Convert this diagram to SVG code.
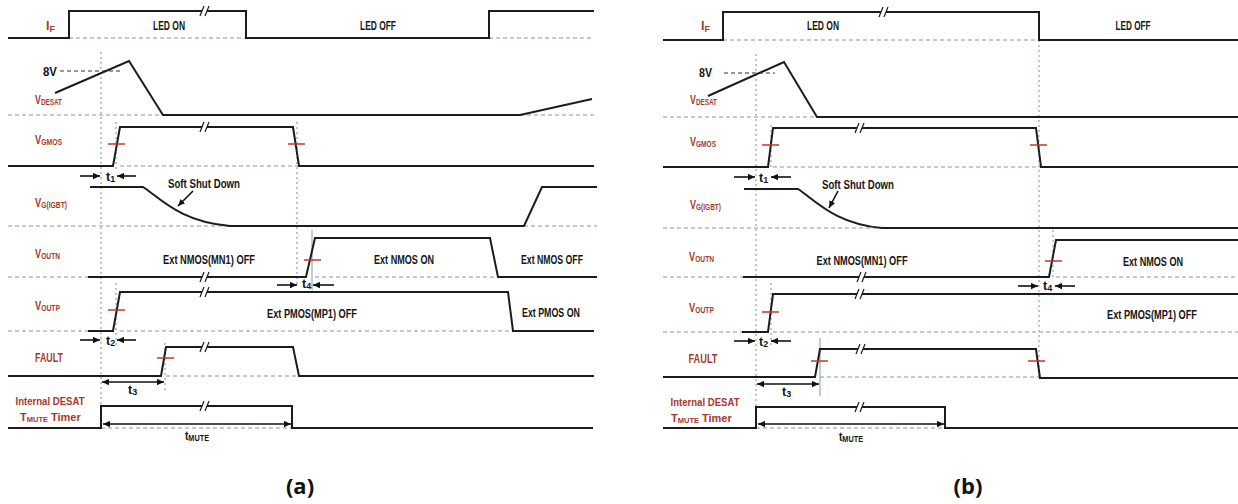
<svg xmlns="http://www.w3.org/2000/svg" xmlns:xlink="http://www.w3.org/1999/xlink" width="1238" height="504" viewBox="0 0 1238 504">
<style>
.sig{fill:none;stroke:#1c1c1c;stroke-width:2;stroke-linejoin:miter}
.dash{fill:none;stroke:#8a93b4;stroke-width:1;stroke-dasharray:4 3}
.d8{fill:none;stroke:#333;stroke-width:1;stroke-dasharray:4 3}
.vdot{fill:none;stroke:#8ea4ae;stroke-width:1.2;stroke-dasharray:2 3}
.vthin{fill:none;stroke:#7d9bb0;stroke-width:1}
.tick{fill:none;stroke:#c0392b;stroke-width:1.5}
.arr{fill:none;stroke:#111;stroke-width:1.6;marker-end:url(#ah)}
.darr{fill:none;stroke:#111;stroke-width:1.6;marker-end:url(#ah);marker-start:url(#ah)}
.lbl{font-family:"Liberation Sans",Arial,sans-serif;font-weight:bold;font-size:12.5px;fill:#a8392a}
.lbs{font-family:"Liberation Sans",Arial,sans-serif;font-weight:bold;font-size:11px;fill:#a8392a}
.lsub{font-family:"Liberation Sans",Arial,sans-serif;font-weight:bold;font-size:7.5px;fill:#a8392a}
.txt{font-family:"Liberation Sans",Arial,sans-serif;font-weight:bold;font-size:12.5px;fill:#151515}
.cap{font-family:"Open Sans","Liberation Sans",sans-serif;font-weight:bold;font-size:22px;fill:#111}
.sub{font-size:9px}
</style>
<defs>
<marker id="ah" viewBox="0 0 10 10" refX="10" refY="5" markerWidth="7" markerHeight="7" markerUnits="userSpaceOnUse" orient="auto-start-reverse"><path d="M0,0.5 L10,5 L0,9.5 z" fill="#111"/></marker>
<g id="brk"><polygon points="-5,5 -1,-5 4,-5 0,5" fill="#fff"/><path d="M-5,5 L-1,-5 M0,5 L4,-5" stroke="#1c1c1c" stroke-width="1.2" fill="none"/></g>
<path id="tk" d="M-8,0 H9" class="tick"/>
</defs>
<rect width="1238" height="504" fill="#fff"/>

<!-- ================= PANEL (a) ================= -->
<g id="panel-a">
 <g id="a-guides">
  <path class="dash" d="M69,38 H246 M489,38 H594 M8,115 H163 M520,115 H594 M120,166 H299 M8,226 H230 M524,226 H597 M8,277 H88 M315,277 H498 M8,331 H88 M120,331 H513 M166,376 H299 M101,428 H292"/>
  <path class="d8" d="M60,71 H120"/>
  <path class="vdot" d="M101,52 V428 M116,122 V170 M116,283 V345 M297,122 V287 M165,343 V393"/>
  <path class="vthin" d="M312,230 V290"/>
 </g>
 <g id="a-IF">
  <path class="sig" d="M8,38 H69 V11 H246 V38 H489 V11 H594"/>
  <use xlink:href="#brk" x="205" y="11"/>
  <text class="lbl" x="46" y="30">I<tspan class="sub" dy="2">F</tspan></text>
  <text class="txt" x="169" y="30" text-anchor="middle" textLength="32" lengthAdjust="spacingAndGlyphs">LED ON</text>
  <text class="txt" x="378" y="30" text-anchor="middle" textLength="36" lengthAdjust="spacingAndGlyphs">LED OFF</text>
 </g>
 <g id="a-VDESAT">
  <path class="sig" d="M55,93 L129,61 L163,115 H520 L592,99"/>
  <text class="txt" x="43" y="76" textLength="14" lengthAdjust="spacingAndGlyphs">8V</text>
  <text class="lbl" x="35" y="104" textLength="27" lengthAdjust="spacingAndGlyphs">V<tspan class="sub" dy="1">DESAT</tspan></text>
 </g>
 <g id="a-VGMOS">
  <path class="sig" d="M8,166 H113 L120,127 H293 L299,166 H594"/>
  <use xlink:href="#brk" x="205" y="127"/>
  <use xlink:href="#tk" x="116" y="144"/>
  <use xlink:href="#tk" x="296" y="144"/>
  <text class="lbl" x="35" y="144" textLength="27" lengthAdjust="spacingAndGlyphs">V<tspan class="sub" dy="1">GMOS</tspan></text>
 </g>
 <g id="a-t1">
  <path class="arr" d="M80,176 H100"/>
  <path class="arr" d="M136,176 H117"/>
  <text class="txt" x="106" y="181">t<tspan class="sub" dy="1">1</tspan></text>
 </g>
 <g id="a-VG">
  <path class="sig" d="M90,187 H143 C160,198 180,222 230,226 H524 L542,187 H597"/>
  <text class="txt" x="204" y="188" text-anchor="middle" textLength="72" lengthAdjust="spacingAndGlyphs">Soft Shut Down</text>
  <path class="arr" d="M193,191 L178,206"/>
  <text class="lbl" x="35" y="207" textLength="32" lengthAdjust="spacingAndGlyphs">V<tspan class="sub" dy="1">G(IGBT)</tspan></text>
 </g>
 <g id="a-VOUTN">
  <path class="sig" d="M88,277 H306 L315,238 H490 L498,277 H597"/>
  <use xlink:href="#brk" x="205" y="277"/>
  <use xlink:href="#tk" x="312" y="260"/>
  <text class="lbl" x="35" y="258" textLength="25" lengthAdjust="spacingAndGlyphs">V<tspan class="sub" dy="1">OUTN</tspan></text>
  <text class="txt" x="209" y="264" text-anchor="middle" textLength="92" lengthAdjust="spacingAndGlyphs">Ext NMOS(MN1) OFF</text>
  <text class="txt" x="404" y="264" text-anchor="middle" textLength="60" lengthAdjust="spacingAndGlyphs">Ext NMOS ON</text>
  <text class="txt" x="552" y="264" text-anchor="middle" textLength="62" lengthAdjust="spacingAndGlyphs">Ext NMOS OFF</text>
 </g>
 <g id="a-t4">
  <path class="arr" d="M277,285 H297"/>
  <path class="arr" d="M334,285 H313"/>
  <text class="txt" x="302" y="288">t<tspan class="sub" dy="1">4</tspan></text>
 </g>
 <g id="a-VOUTP">
  <path class="sig" d="M88,331 H113 L120,292 H508 L513,331 H594"/>
  <use xlink:href="#brk" x="205" y="292"/>
  <use xlink:href="#tk" x="116" y="310"/>
  <text class="lbl" x="35" y="310" textLength="25" lengthAdjust="spacingAndGlyphs">V<tspan class="sub" dy="1">OUTP</tspan></text>
  <text class="txt" x="312" y="318" text-anchor="middle" textLength="90" lengthAdjust="spacingAndGlyphs">Ext PMOS(MP1) OFF</text>
  <text class="txt" x="551" y="317" text-anchor="middle" textLength="58" lengthAdjust="spacingAndGlyphs">Ext PMOS ON</text>
 </g>
 <g id="a-t2">
  <path class="arr" d="M80,340 H100"/>
  <path class="arr" d="M136,340 H117"/>
  <text class="txt" x="106" y="345">t<tspan class="sub" dy="1">2</tspan></text>
 </g>
 <g id="a-FAULT">
  <path class="sig" d="M8,376 H161 L166,347 H293 L299,376 H594"/>
  <use xlink:href="#brk" x="205" y="347"/>
  <use xlink:href="#tk" x="165" y="358"/>
  <text class="lbl" x="49" y="362" text-anchor="middle" textLength="28" lengthAdjust="spacingAndGlyphs">FAULT</text>
 </g>
 <g id="a-t3">
  <path class="darr" d="M102,382 H164"/>
  <text class="txt" x="128" y="394">t<tspan class="sub" dy="1">3</tspan></text>
 </g>
 <g id="a-TIMER">
  <path class="sig" d="M8,428 H101 V406 H292 V428 H593"/>
  <use xlink:href="#brk" x="205" y="406"/>
  <path class="darr" d="M103,424 H291"/>
  <text class="lbs" x="50" y="405" text-anchor="middle" textLength="69" lengthAdjust="spacingAndGlyphs">Internal DESAT</text>
  <text class="lbs" x="20" y="421">T</text>
  <text class="lsub" x="26.8" y="422">MUTE</text>
  <text class="lbs" x="51" y="421">Timer</text>
  <text class="txt" x="197" y="440" text-anchor="middle" textLength="24" lengthAdjust="spacingAndGlyphs">t<tspan class="sub" dy="1">MUTE</tspan></text>
 </g>
 <text class="cap" x="300" y="494" text-anchor="middle">(a)</text>
</g>

<!-- ================= PANEL (b) ================= -->
<g id="panel-b">
 <g id="b-guides">
  <path class="dash" d="M723,40 H1039 M663,117 H817 M773,167 H1041 M663,228 H882 M663,277 H743 M1056,277 H1238 M663,332 H742 M773,332 H1238 M820,377 H1040 M756,428 H945"/>
  <path class="d8" d="M724,73 H775"/>
  <path class="vdot" d="M756,54 V428 M771,125 V170 M771,283 V345 M1039,40 V378 M1053,230 V280"/>
  <path class="vthin" d="M820,338 V396"/>
 </g>
 <g id="b-IF">
  <path class="sig" d="M663,40 H723 V12 H1039 V40 H1238"/>
  <use xlink:href="#brk" x="884" y="12"/>
  <text class="lbl" x="701" y="30">I<tspan class="sub" dy="2">F</tspan></text>
  <text class="txt" x="823" y="30" text-anchor="middle" textLength="32" lengthAdjust="spacingAndGlyphs">LED ON</text>
  <text class="txt" x="1133" y="30" text-anchor="middle" textLength="35" lengthAdjust="spacingAndGlyphs">LED OFF</text>
 </g>
 <g id="b-VDESAT">
  <path class="sig" d="M708,96 L784,62 L817,117 H1238"/>
  <text class="txt" x="699" y="77" textLength="13" lengthAdjust="spacingAndGlyphs">8V</text>
  <text class="lbl" x="690" y="104" textLength="27" lengthAdjust="spacingAndGlyphs">V<tspan class="sub" dy="1">DESAT</tspan></text>
 </g>
 <g id="b-VGMOS">
  <path class="sig" d="M663,167 H768 L773,128 H1036 L1041,167 H1238"/>
  <use xlink:href="#brk" x="860" y="128"/>
  <use xlink:href="#tk" x="770" y="145"/>
  <use xlink:href="#tk" x="1038" y="145"/>
  <text class="lbl" x="690" y="146" textLength="26" lengthAdjust="spacingAndGlyphs">V<tspan class="sub" dy="1">GMOS</tspan></text>
 </g>
 <g id="b-t1">
  <path class="arr" d="M734,177 H755"/>
  <path class="arr" d="M791,177 H771"/>
  <text class="txt" x="759" y="182">t<tspan class="sub" dy="1">1</tspan></text>
 </g>
 <g id="b-VG">
  <path class="sig" d="M744,189 H798 C815,200 835,224 882,228 H1238"/>
  <text class="txt" x="858" y="189" text-anchor="middle" textLength="72" lengthAdjust="spacingAndGlyphs">Soft Shut Down</text>
  <path class="arr" d="M838,191 L829,208"/>
  <text class="lbl" x="690" y="209" textLength="31" lengthAdjust="spacingAndGlyphs">V<tspan class="sub" dy="1">G(IGBT)</tspan></text>
 </g>
 <g id="b-VOUTN">
  <path class="sig" d="M743,277 H1049 L1056,240 H1238"/>
  <use xlink:href="#brk" x="862" y="277"/>
  <use xlink:href="#tk" x="1053" y="261"/>
  <text class="lbl" x="689" y="261" textLength="25" lengthAdjust="spacingAndGlyphs">V<tspan class="sub" dy="1">OUTN</tspan></text>
  <text class="txt" x="862" y="265" text-anchor="middle" textLength="91" lengthAdjust="spacingAndGlyphs">Ext NMOS(MN1) OFF</text>
  <text class="txt" x="1153" y="266" text-anchor="middle" textLength="60" lengthAdjust="spacingAndGlyphs">Ext NMOS ON</text>
 </g>
 <g id="b-t4">
  <path class="arr" d="M1018,286 H1038"/>
  <path class="arr" d="M1075,286 H1055"/>
  <text class="txt" x="1043" y="290">t<tspan class="sub" dy="1">4</tspan></text>
 </g>
 <g id="b-VOUTP">
  <path class="sig" d="M742,332 H768 L773,294 H1238"/>
  <use xlink:href="#brk" x="860" y="294"/>
  <use xlink:href="#tk" x="770" y="312"/>
  <text class="lbl" x="689" y="312" textLength="25" lengthAdjust="spacingAndGlyphs">V<tspan class="sub" dy="1">OUTP</tspan></text>
  <text class="txt" x="1152" y="319" text-anchor="middle" textLength="90" lengthAdjust="spacingAndGlyphs">Ext PMOS(MP1) OFF</text>
 </g>
 <g id="b-t2">
  <path class="arr" d="M734,341 H755"/>
  <path class="arr" d="M791,341 H771"/>
  <text class="txt" x="759" y="346">t<tspan class="sub" dy="1">2</tspan></text>
 </g>
 <g id="b-FAULT">
  <path class="sig" d="M663,377 H815 L820,349 H1036 L1040,378 H1238"/>
  <use xlink:href="#brk" x="861" y="349"/>
  <use xlink:href="#tk" x="819" y="361"/>
  <use xlink:href="#tk" x="1036" y="361"/>
  <text class="lbl" x="703" y="363" text-anchor="middle" textLength="29" lengthAdjust="spacingAndGlyphs">FAULT</text>
 </g>
 <g id="b-t3">
  <path class="darr" d="M757,384 H819"/>
  <text class="txt" x="782" y="396">t<tspan class="sub" dy="1">3</tspan></text>
 </g>
 <g id="b-TIMER">
  <path class="sig" d="M663,428 H756 V407 H945 V428 H1238"/>
  <use xlink:href="#brk" x="860" y="407"/>
  <path class="darr" d="M758,424 H944"/>
  <text class="lbs" x="705" y="406" text-anchor="middle" textLength="69" lengthAdjust="spacingAndGlyphs">Internal DESAT</text>
  <text class="lbs" x="671" y="422">T</text>
  <text class="lsub" x="677.8" y="423">MUTE</text>
  <text class="lbs" x="702" y="422">Timer</text>
  <text class="txt" x="851" y="441" text-anchor="middle" textLength="24" lengthAdjust="spacingAndGlyphs">t<tspan class="sub" dy="1">MUTE</tspan></text>
 </g>
 <text class="cap" x="968" y="494" text-anchor="middle">(b)</text>
</g>
</svg>
